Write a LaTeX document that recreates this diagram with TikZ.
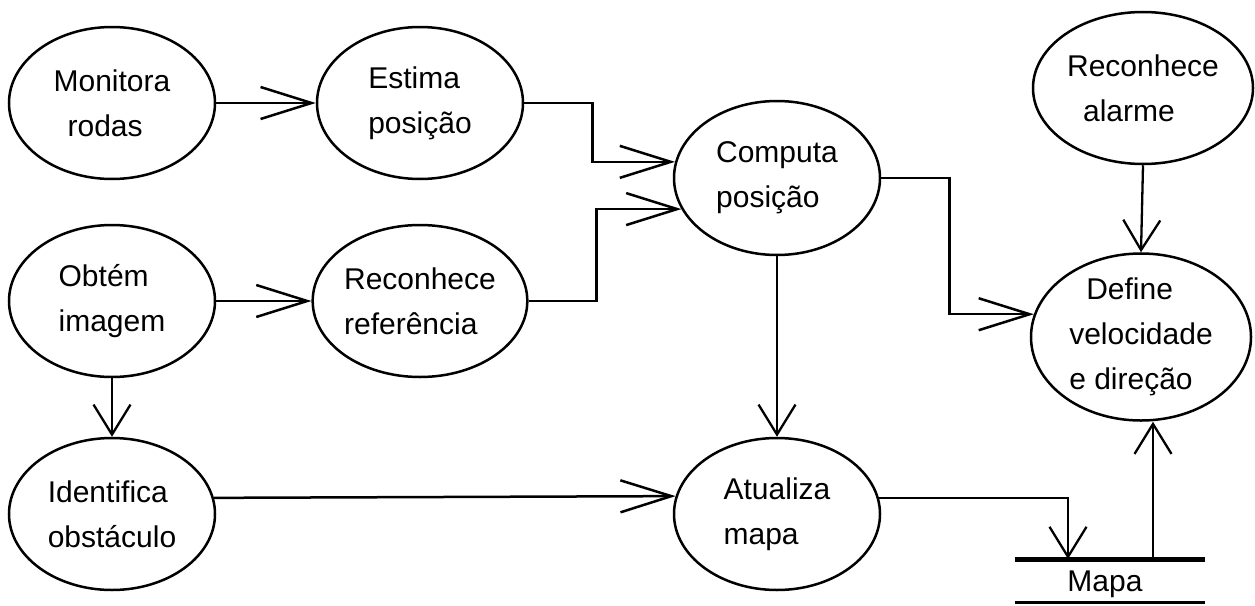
\documentclass[tikz,border=0pt]{standalone}
\usepackage{fontspec}
\setmainfont{Liberation Sans}
\usetikzlibrary{arrows.meta,shapes.geometric}
\begin{document}
\begin{tikzpicture}[x=1pt,y=-1pt,
  proc/.style={ellipse, draw, line width=2.5pt, inner sep=0pt,
    minimum width=206pt, minimum height=152pt, align=left,
    font=\fontsize{30}{45}\selectfont},
  flowh/.style={line width=2.5pt, -{Straight Barb[length=51pt,width=32pt]}},
  flowv/.style={line width=2.3pt, -{Straight Barb[length=30pt,width=37pt]}},
  lbl/.style={font=\fontsize{30}{45}\selectfont, inner sep=0pt}
]
\useasboundingbox (0,0) rectangle (1255,605);

\node[proc] (mon)   at (112,103) {Monitora\\\hspace*{14pt}rodas};
\node[proc] (est)   at (420,103) {Estima\\posição};
\node[proc, minimum height=154pt] (comp)  at (777,178) {Computa\\posição};
\node[proc, minimum width=220pt] (alarm) at (1143,88) {Reconhece\\\hspace*{16pt}alarme};
\node[proc] (obt)   at (112,301) {Obtém\\imagem};
\node[proc] (ref)   at (420,301) {Reconhece\\referência};
\node[proc, minimum width=220pt, minimum height=162pt] (def) at (1141,337) {\hspace*{17pt}Define\\velocidade\\e direção};
\node[proc] (ident) at (112,514) {Identifica\\obstáculo};
\node[proc] (atual) at (777,514) {Atualiza\\mapa};

% data store Mapa
\coordinate (mapaTL) at (1015,559);
\coordinate (mapaTR) at (1205,559);
\coordinate (mapaBL) at (1015,602);
\coordinate (mapaBR) at (1205,602);
\coordinate (mIn)  at (1068,559);
\coordinate (mOut) at (1153,559);
\draw[line width=5pt] (mapaTL) -- (mapaTR);
\draw[line width=3pt] (mapaBL) -- (mapaBR);
\node[lbl, anchor=base] (mapa) at (1105,591) {Mapa};

% connectors
\draw[flowh] (mon.east) -- (est.west);
\draw[flowh] (obt.east) -- (ref.west);
\draw[flowh] (est.east) -- ++(68,0) |- (comp.171.5);
\draw[flowh] (ref.east) -- ++(68,0) |- (comp.198.4);
\draw[flowh] (comp.east) -- ++(68,0) |- (def.168.8);
\draw[flowv] (alarm.south) -- (def.north);
\draw[flowv] (obt.south) -- (ident.north);
\draw[flowv] (comp.south) -- (atual.north);
\draw[flowh] (ident.9.5) -- (atual.170.5);
\draw[flowv] (atual.9.5) -| (mIn);
\draw[flowv] (mOut) -- (mOut |- def.south);
\end{tikzpicture}
\end{document}
